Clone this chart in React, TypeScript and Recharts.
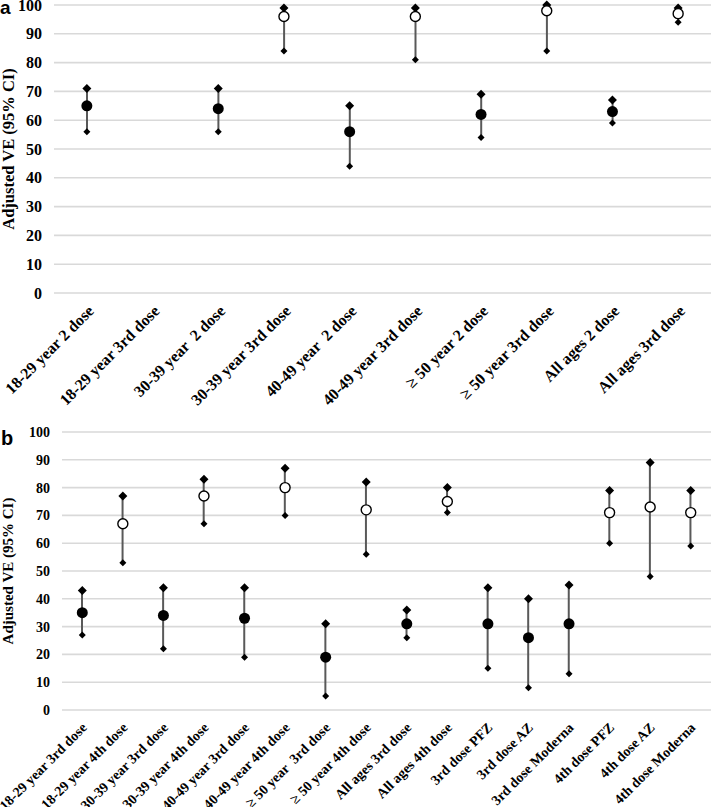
import { ComposedChart, Bar, Line, XAxis, YAxis, CartesianGrid, Label } from "recharts";

// panel a
const labelsA = [
  "18-29 year 2 dose",
  "18-29 year 3rd dose",
  "30-39 year  2 dose",
  "30-39 year 3rd dose",
  "40-49 year  2 dose",
  "40-49 year 3rd dose",
  "≥ 50 year 2 dose",
  "≥ 50 year 3rd dose",
  "All ages 2 dose",
  "All ages 3rd dose",
];
const veA = [65, null, 64, 96, 56, 96, 62, 98, 63, 97];
const lowA = [56, null, 56, 84, 44, 81, 54, 84, 59, 94];
const highA = [71, null, 71, 99, 65, 99, 69, 100, 67, 99];
const openA = [false, false, false, true, false, true, false, true, false, true];

// panel b
const labelsB = [
  "18-29 year 3rd dose",
  "18-29 year 4th dose",
  "30-39 year 3rd dose",
  "30-39 year 4th dose",
  "40-49 year 3rd dose",
  "40-49 year 4th dose",
  "≥ 50 year  3rd dose",
  "≥ 50 year 4th dose",
  "All ages 3rd dose",
  "All ages 4th dose",
  "3rd dose PFZ",
  "3rd dose AZ",
  "3rd dose Moderna",
  "4th dose PFZ",
  "4th dose AZ",
  "4th dose Moderna",
];
const veB = [35, 67, 34, 77, 33, 80, 19, 72, 31, 75, 31, 26, 31, 71, 73, 71];
const lowB = [27, 53, 22, 67, 19, 70, 5, 56, 26, 71, 15, 8, 13, 60, 48, 59];
const highB = [43, 77, 44, 83, 44, 87, 31, 82, 36, 80, 44, 40, 45, 79, 89, 79];
const openB = [false, true, false, true, false, true, false, true, false, true, false, false, false, true, true, true];

const yTicks = [0, 10, 20, 30, 40, 50, 60, 70, 80, 90, 100];

const SERIF = "'Liberation Serif', 'Times New Roman', serif";

function diamond(p: any, r: number) {
  if (p.cy == null || p.value == null) return <g key={p.index} />;
  const { cx, cy } = p;
  return (
    <path
      key={p.index}
      d={`M${cx},${cy - r}L${cx + r},${cy}L${cx},${cy + r}L${cx - r},${cy}Z`}
      fill="#000"
    />
  );
}

function veDot(p: any) {
  if (p.cy == null || p.value == null) return <g key={p.index} />;
  const open = p.payload.open;
  return (
    <circle
      key={p.index}
      cx={p.cx}
      cy={p.cy}
      r={open ? 5 : 5.5}
      fill={open ? "#fff" : "#000"}
      stroke="#000"
      strokeWidth={open ? 1.4 : 0}
    />
  );
}

function AngledTick(props: any) {
  const { x, y, payload, fontSize, dx, dy } = props;
  const tx = x + dx;
  const ty = y + dy;
  return (
    <text
      x={tx}
      y={ty}
      dy="0.35em"
      transform={`rotate(-45 ${tx} ${ty})`}
      textAnchor="end"
      fontFamily={SERIF}
      fontWeight={700}
      fontSize={fontSize}
      fill="#000"
      style={{ whiteSpace: "pre" }}
    >
      {payload.value}
    </text>
  );
}

interface PanelProps {
  labels: string[];
  ve: (number | null)[];
  low: (number | null)[];
  high: (number | null)[];
  open: boolean[];
  height: number;
  top: number;
  yAxisWidth: number;
  xAxisHeight: number;
  tickSize: number;
  labelSize: number;
  titleSize: number;
  labelDx: number;
  labelDy: number;
}

function Panel(p: PanelProps) {
  const data = p.labels.map((label, i) => ({
    label,
    ve: p.ve[i],
    low: p.low[i],
    high: p.high[i],
    open: p.open[i],
  }));
  return (
    <ComposedChart
      width={711}
      height={p.height}
      data={data}
      margin={{ top: p.top, right: 0, bottom: 0, left: 0 }}
      style={{ overflow: "visible" }}
    >
      <CartesianGrid vertical={false} stroke="#d9d9d9" strokeWidth={1.6} />
      <XAxis
        dataKey="label"
        interval={0}
        axisLine={false}
        tickLine={false}
        tickSize={0}
        tickMargin={0}
        height={p.xAxisHeight}
        tick={<AngledTick fontSize={p.labelSize} dx={p.labelDx} dy={p.labelDy} />}
      />
      <YAxis
        domain={[0, 100]}
        ticks={yTicks}
        interval={0}
        width={p.yAxisWidth}
        axisLine={false}
        tickLine={false}
        tickSize={0}
        tickMargin={12}
        tick={{ fill: "#000", fontSize: p.tickSize, fontWeight: 700, fontFamily: SERIF }}
      >
        <Label
          content={({ viewBox }: any) => {
            const cx = viewBox.x + 8;
            const cy = viewBox.y + viewBox.height / 2;
            return (
              <text
                x={cx}
                y={cy}
                transform={`rotate(-90 ${cx} ${cy})`}
                textAnchor="middle"
                dominantBaseline="central"
                fontFamily={SERIF}
                fontWeight={700}
                fontSize={p.titleSize}
                fill="#000"
              >
                Adjusted VE (95% CI)
              </text>
            );
          }}
        />
      </YAxis>
      <Bar
        dataKey={(d: any) => (d.low == null ? null : [d.low, d.high])}
        barSize={2}
        fill="#595959"
        isAnimationActive={false}
      />
      <Line dataKey="low" stroke="none" dot={(d: any) => diamond(d, 3.5)} activeDot={false} isAnimationActive={false} />
      <Line dataKey="high" stroke="none" dot={(d: any) => diamond(d, 4.5)} activeDot={false} isAnimationActive={false} />
      <Line dataKey="ve" stroke="none" dot={veDot} activeDot={false} isAnimationActive={false} />
    </ComposedChart>
  );
}

export default function App() {
  return (
    <div style={{ position: "absolute", left: 0, top: 0, width: 711, height: 807, background: "#fff", overflow: "hidden" }}>
      <div style={{ position: "absolute", left: 0, top: 0 }}>
        <Panel
          labels={labelsA}
          ve={veA}
          low={lowA}
          high={highA}
          open={openA}
          height={410}
          top={5}
          yAxisWidth={54}
          xAxisHeight={117}
          tickSize={16}
          labelSize={16}
          titleSize={16.5}
          labelDx={4}
          labelDy={15}
        />
      </div>
      <div style={{ position: "absolute", left: 0, top: 410 }}>
        <Panel
          labels={labelsB}
          ve={veB}
          low={lowB}
          high={highB}
          open={openB}
          height={397}
          top={22}
          yAxisWidth={62}
          xAxisHeight={97}
          tickSize={14}
          labelSize={14}
          titleSize={15}
          labelDx={2}
          labelDy={15}
        />
      </div>
      <svg width={711} height={807} style={{ position: "absolute", left: 0, top: 0, pointerEvents: "none" }}>
        <text x={0} y={14} fontFamily="'Liberation Sans', Arial, sans-serif" fontWeight={700} fontSize={19} fill="#000">
          a
        </text>
        <text x={1} y={445} fontFamily="'Liberation Sans', Arial, sans-serif" fontWeight={700} fontSize={20} fill="#000">
          b
        </text>
      </svg>
    </div>
  );
}
